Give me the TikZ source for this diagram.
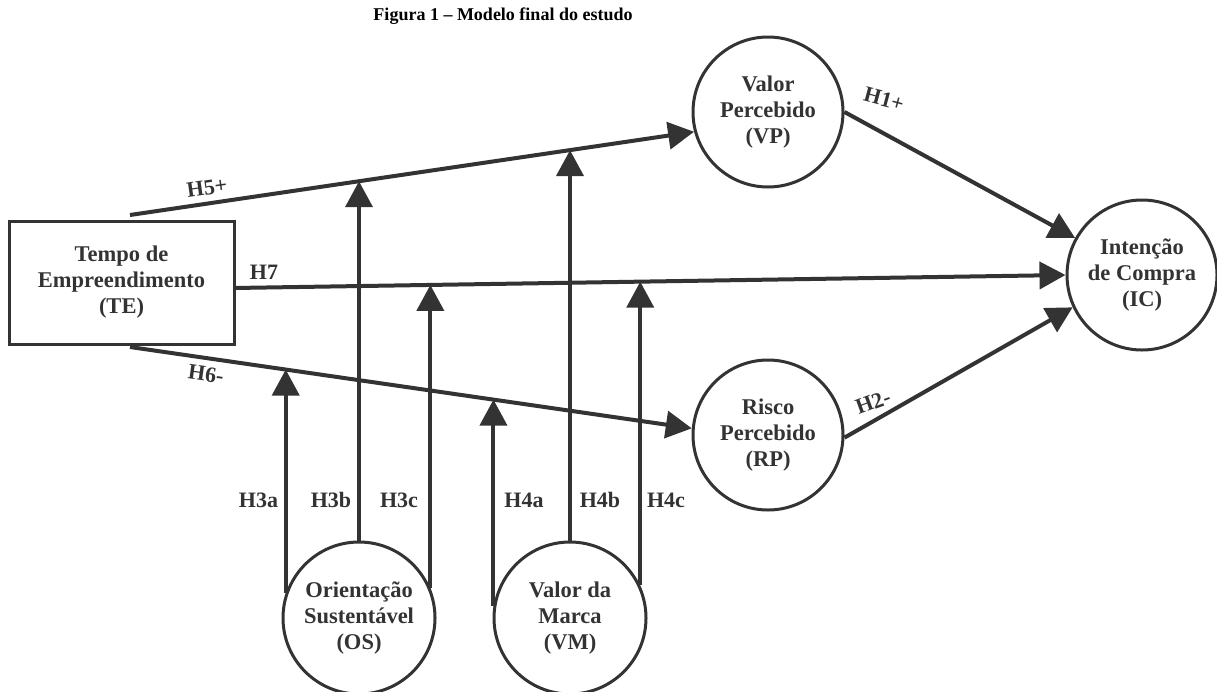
\documentclass[tikz,border=0pt]{standalone}
\usepackage{fontspec}
\setmainfont{Liberation Serif}
\usetikzlibrary{arrows.meta,intersections}
\definecolor{ink}{RGB}{51,51,51}
\begin{document}
\begin{tikzpicture}[x=1pt,y=-1pt,
  ln/.style={draw=ink,line width=4pt},
  arr/.style={ln,-{Triangle[length=26pt,width=27pt]}},
  txt/.style={text=ink,align=center,font=\bfseries\fontsize{22.5}{26}\selectfont},
  circ/.style={txt,circle,draw=ink,line width=3pt,minimum size=150pt,inner sep=0pt},
  box/.style={txt,rectangle,draw=ink,line width=3pt,minimum width=225pt,minimum height=123pt,inner sep=0pt},
  lab/.style={text=ink,font=\bfseries\fontsize{22}{26}\selectfont,inner sep=0pt},
]
\useasboundingbox (0,0) rectangle (1217,691);
\node[font=\bfseries\fontsize{18}{22}\selectfont] (title) at (503,16) {Figura 1 – Modelo final do estudo};
\node[box] (TE) at (121.5,282.5) {Tempo de\\Empreendimento\\(TE)};
\node[circ] (VP) at (768,112) {Valor\\Percebido\\(VP)};
\node[circ] (RP) at (768,435) {Risco\\Percebido\\(RP)};
\node[circ] (IC) at (1142,275) {Intenção\\de Compra\\(IC)};
\node[circ,minimum size=152pt] (OS) at (359,618) {Orientação\\Sustentável\\(OS)};
\node[circ,minimum size=152pt] (VM) at (570,618) {Valor da\\Marca\\(VM)};
\coordinate (h5s) at (130,215);
\coordinate (h7s) at (234,288);
\coordinate (h6s) at (130,347);
\draw[arr,name path=h5] (h5s) -- (VP.195);
\draw[arr,name path=h7] (h7s) -- (IC.180);
\draw[arr,name path=h6] (h6s) -- (RP.175);
\draw[arr] (VP.0) -- (IC.151);
\draw[arr] (RP.358) -- (IC.205);
% moderators
\path[name path=v1] (OS.161) -- ++(0,-600);
\path[name path=v2] (OS.90) -- ++(0,-600);
\path[name path=v3] (OS.23) -- ++(0,-600);
\path[name path=v4] (VM.171) -- ++(0,-600);
\path[name path=v5] (VM.90) -- ++(0,-600);
\path[name path=v6] (VM.25) -- ++(0,-600);
\draw[arr,name intersections={of=v1 and h6}] (OS.161) -- (intersection-1);
\draw[arr,name intersections={of=v2 and h5}] (OS.90) -- (intersection-1);
\draw[arr,name intersections={of=v3 and h7}] (OS.23) -- (intersection-1);
\draw[arr,name intersections={of=v4 and h6}] (VM.171) -- (intersection-1);
\draw[arr,name intersections={of=v5 and h5}] (VM.90) -- (intersection-1);
\draw[arr,name intersections={of=v6 and h7}] (VM.25) -- (intersection-1);
% labels
\node[lab,rotate=8] (l5) at (207,188) {H5+};
\node[lab] (l7) at (264,272) {H7};
\node[lab,rotate=-8] (l6) at (206,374) {H6-};
\node[lab,rotate=-15] (l1) at (884,99) {H1+};
\node[lab,rotate=20] (l2) at (873,402) {H2-};
\node[lab] (l3a) at (258.5,500) {H3a};
\node[lab] (l3b) at (331,500) {H3b};
\node[lab] (l3c) at (399,500) {H3c};
\node[lab] (l4a) at (524,500) {H4a};
\node[lab] (l4b) at (600,500) {H4b};
\node[lab] (l4c) at (666,500) {H4c};
\end{tikzpicture}
\end{document}
